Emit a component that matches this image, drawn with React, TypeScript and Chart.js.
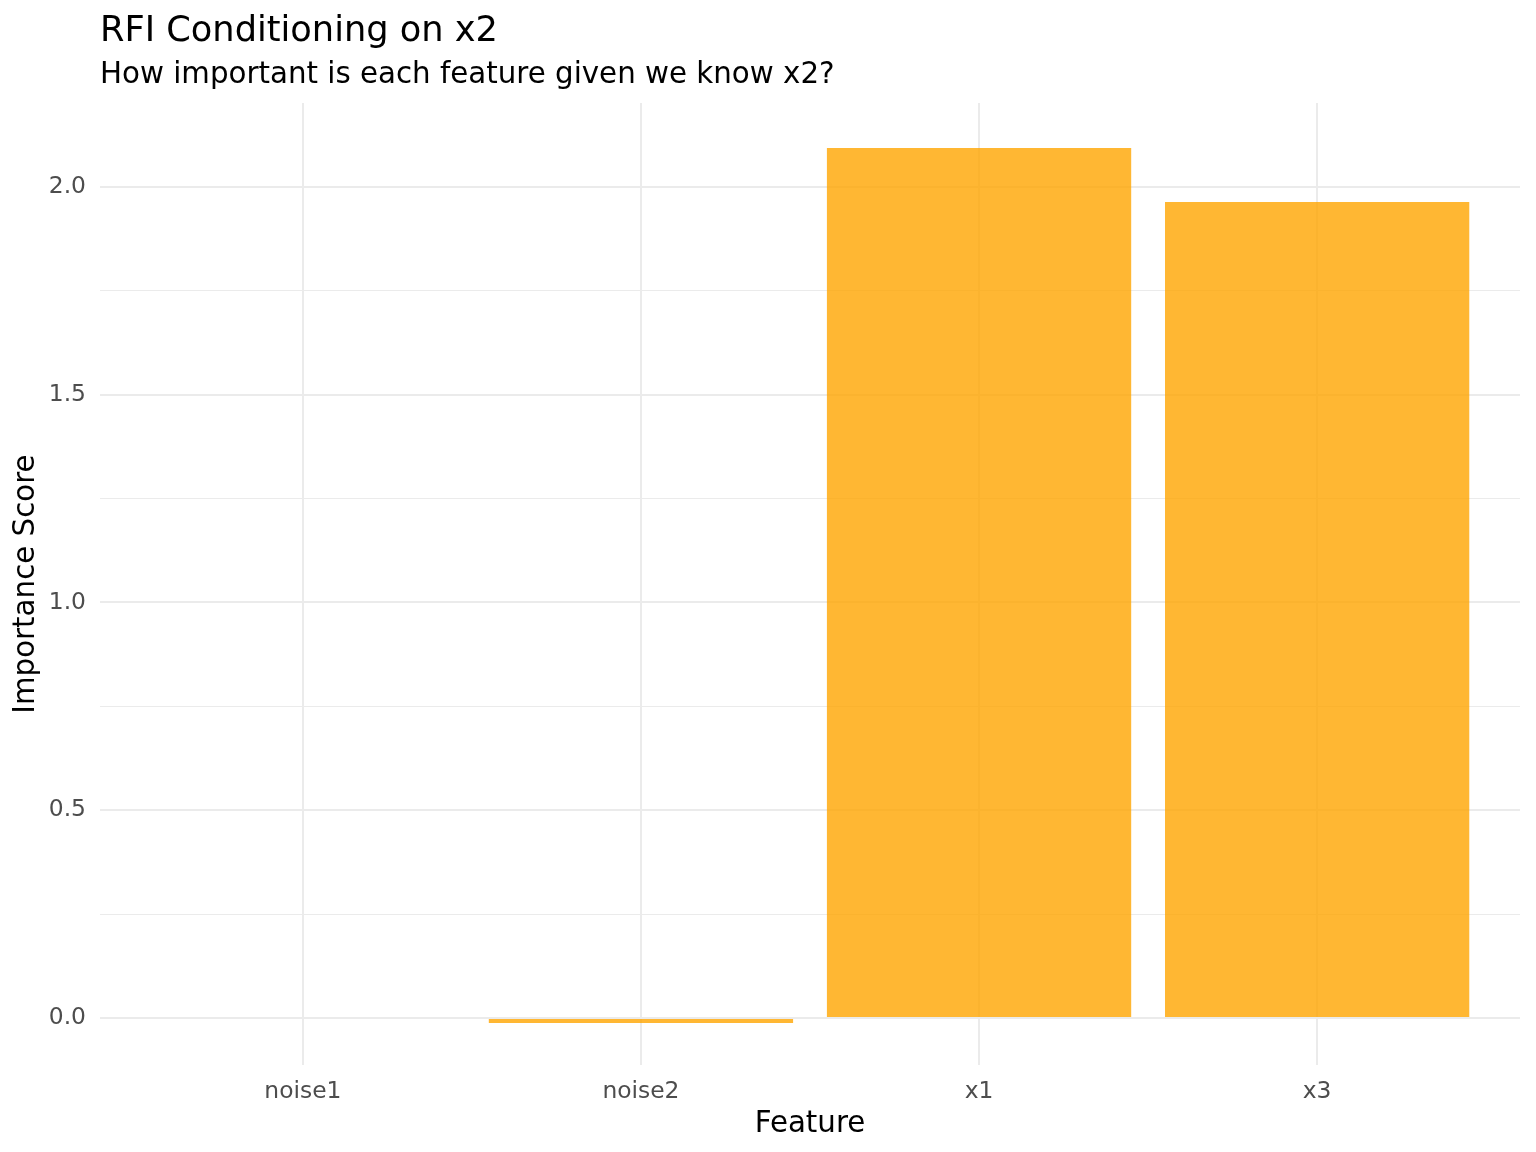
import React, { useEffect, useRef } from "react";
import { Chart, registerables } from "chart.js";

Chart.register(...registerables);

const categories = ["noise1", "noise2", "x1", "x3"];
const importance = [0.0, -0.012, 2.094, 1.964];
const yTicks = [0, 0.25, 0.5, 0.75, 1.0, 1.25, 1.5, 1.75, 2.0];
const titleText = "RFI Conditioning on x2";
const subtitleText = "How important is each feature given we know x2?";
const xTitle = "Feature";
const yTitle = "Importance Score";

const FONT = "'DejaVu Sans', sans-serif";

export default function App() {
  const ref = useRef<HTMLCanvasElement | null>(null);
  useEffect(() => {
    if (!ref.current) return;
    const titlePlugin = {
      id: "ggtitle",
      afterDraw(chart: any) {
        const ctx = chart.ctx;
        const left = chart.chartArea.left;
        ctx.save();
        ctx.fillStyle = "#000000";
        ctx.textAlign = "left";
        ctx.textBaseline = "alphabetic";
        ctx.font = `35.2px ${FONT}`;
        ctx.fillText(titleText, left, 41);
        ctx.font = `29.3px ${FONT}`;
        ctx.fillText(subtitleText, left, 83);
        ctx.restore();
      },
    };
    const chart = new Chart(ref.current, {
      type: "bar",
      data: {
        datasets: [
          {
            data: importance.map((v, i) => ({ x: i, y: v })),
            backgroundColor: "rgba(255,165,0,0.8)",
            borderWidth: 0,
            barPercentage: 0.9,
            categoryPercentage: 1.0,
          },
        ],
      },
      options: {
        responsive: false,
        animation: false,
        layout: { padding: { top: 103, right: 16, left: 0, bottom: 0 } },
        plugins: {
          legend: { display: false },
          tooltip: { enabled: false },
          title: { display: false },
        },
        scales: {
          x: {
            type: "linear",
            offset: false,
            min: -0.6,
            max: 3.6,
            afterBuildTicks: (scale: any) => {
              scale.ticks = categories.map((_, i) => ({ value: i }));
            },
            afterFit: (scale: any) => {
              scale.height = 1152 - 1065;
            },
            ticks: {
              callback: (v: any) => categories[Number(v)] ?? "",
              color: "#4D4D4D",
              font: { family: FONT, size: 23.4 },
              padding: 13,
              maxRotation: 0,
              autoSkip: false,
            },
            grid: { color: "#EBEBEB", lineWidth: 2, drawTicks: false, offset: false },
            border: { display: false },
            title: {
              display: true,
              text: xTitle,
              color: "#000000",
              font: { family: FONT, size: 29.3 },
              padding: { top: 2, bottom: 10 },
            },
          },
          y: {
            type: "linear",
            min: -0.113,
            max: 2.202,
            afterBuildTicks: (scale: any) => {
              scale.ticks = yTicks.map((v) => ({ value: v }));
            },
            afterFit: (scale: any) => {
              scale.width = 100;
            },
            ticks: {
              callback: (v: any) => {
                const n = Number(v);
                return Math.abs(n * 2 - Math.round(n * 2)) < 1e-6 ? n.toFixed(1) : "";
              },
              color: "#4D4D4D",
              font: { family: FONT, size: 23.4 },
              padding: 14,
              autoSkip: false,
            },
            grid: {
              color: "#EBEBEB",
              lineWidth: (c: any) => {
                const n = c.tick ? c.tick.value : 0;
                return Math.abs(n * 2 - Math.round(n * 2)) < 1e-6 ? 2 : 1;
              },
              drawTicks: false,
            },
            border: { display: false },
            title: {
              display: true,
              text: yTitle,
              color: "#000000",
              font: { family: FONT, size: 29.3 },
              padding: { top: 9, bottom: 4 },
            },
          },
        },
      },
      plugins: [titlePlugin],
    } as any);
    return () => chart.destroy();
  }, []);
  return (
    <div style={{ position: "fixed", left: 0, top: 0, width: 1536, height: 1152, background: "#fff" }}>
      <canvas ref={ref} width={1536} height={1152} style={{ width: 1536, height: 1152 }} />
    </div>
  );
}
